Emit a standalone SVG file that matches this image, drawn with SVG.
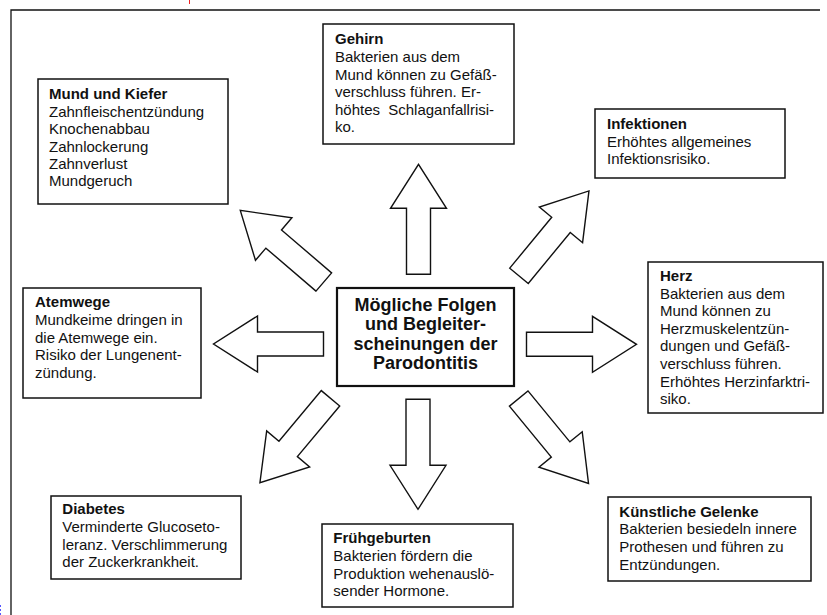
<svg xmlns="http://www.w3.org/2000/svg" width="827" height="615" viewBox="0 0 827 615">
<style>
  .box{fill:#fff;stroke:#111;stroke-width:1.5}
  .main{fill:#fff;stroke:#111;stroke-width:2.2}
  .arr{fill:#fff;stroke:#111;stroke-width:1.4;stroke-linejoin:miter}
  text{font-family:"Liberation Sans",Arial,sans-serif;font-size:15px;fill:#111}
  .h{font-weight:bold}
  .c{font-weight:bold;font-size:18px;text-anchor:middle}
</style>
<defs>
  <polygon id="arrow" points="0,-12 66,-12 66,-28 110,0 66,28 66,12 0,12"/>
</defs>
<rect width="827" height="615" fill="#fff"/>
<path d="M11,615 V10 H820" fill="none" stroke="#111" stroke-width="1.3"/>
<line x1="189.5" y1="0" x2="189.5" y2="4" stroke="#e22" stroke-width="1"/>
<line x1="0.5" y1="605" x2="0.5" y2="615" stroke="#55f" stroke-width="1" stroke-dasharray="2,2"/>

<g id="connectors">
  <use href="#arrow" class="arr" transform="translate(418.5,274.3) rotate(-90)"/>
  <use href="#arrow" class="arr" transform="translate(418,399.3) rotate(90)"/>
  <use href="#arrow" class="arr" transform="translate(323.5,344) rotate(180)"/>
  <use href="#arrow" class="arr" transform="translate(526.5,344.3)"/>
  <use href="#arrow" class="arr" transform="translate(323.8,282) rotate(-139.4)"/>
  <use href="#arrow" class="arr" transform="translate(519,275.8) rotate(-50.5)"/>
  <use href="#arrow" class="arr" transform="translate(330.5,398.3) rotate(129.9)"/>
  <use href="#arrow" class="arr" transform="translate(518.7,398.5) rotate(50.6)"/>
</g>

<g id="center">
  <rect class="main" x="337" y="288" width="177" height="98"/>
  <text class="c" x="425.5" y="311">Mögliche Folgen</text>
  <text class="c" x="425.5" y="330.3">und Begleiter-</text>
  <text class="c" x="425.5" y="349.5">scheinungen der</text>
  <text class="c" x="425.5" y="368.7">Parodontitis</text>
</g>

<g id="mund">
  <rect class="box" x="38" y="79" width="190" height="125"/>
  <text x="49" y="99.3"><tspan class="h">Mund und Kiefer</tspan><tspan x="49" dy="17.4">Zahnfleischentzündung</tspan><tspan x="49" dy="17.4">Knochenabbau</tspan><tspan x="49" dy="17.4">Zahnlockerung</tspan><tspan x="49" dy="17.4">Zahnverlust</tspan><tspan x="49" dy="17.4">Mundgeruch</tspan></text>
</g>

<g id="gehirn">
  <rect class="box" x="323" y="24" width="191" height="120"/>
  <text x="335" y="44.3"><tspan class="h">Gehirn</tspan><tspan x="335" dy="17.6">Bakterien aus dem</tspan><tspan x="335" dy="17.6">Mund können zu Gefäß-</tspan><tspan x="335" dy="17.6">verschluss führen. Er-</tspan><tspan x="335" dy="17.6" word-spacing="4">höhtes Schlaganfallrisi-</tspan><tspan x="335" dy="17.6">ko.</tspan></text>
</g>

<g id="infektionen">
  <rect class="box" x="595" y="109" width="190" height="69"/>
  <text x="607" y="129"><tspan class="h">Infektionen</tspan><tspan x="607" dy="17.6">Erhöhtes allgemeines</tspan><tspan x="607" dy="17.6">Infektionsrisiko.</tspan></text>
</g>

<g id="atemwege">
  <rect class="box" x="23" y="288" width="178" height="110"/>
  <text x="35" y="307.3"><tspan class="h">Atemwege</tspan><tspan x="35" dy="17.6">Mundkeime dringen in</tspan><tspan x="35" dy="17.6">die Atemwege ein.</tspan><tspan x="35" dy="17.6">Risiko der Lungenent-</tspan><tspan x="35" dy="17.6">zündung.</tspan></text>
</g>

<g id="herz">
  <rect class="box" x="648" y="262" width="175" height="151"/>
  <text x="660" y="281"><tspan class="h">Herz</tspan><tspan x="660" dy="17.6">Bakterien aus dem</tspan><tspan x="660" dy="17.6">Mund können zu</tspan><tspan x="660" dy="17.6">Herzmuskelentzün-</tspan><tspan x="660" dy="17.6">dungen und Gefäß-</tspan><tspan x="660" dy="17.6">verschluss führen.</tspan><tspan x="660" dy="17.6">Erhöhtes Herzinfarktri-</tspan><tspan x="660" dy="17.6">siko.</tspan></text>
</g>

<g id="diabetes">
  <rect class="box" x="51" y="496" width="190" height="83"/>
  <text x="62.3" y="514.3"><tspan class="h">Diabetes</tspan><tspan x="62.3" dy="17.7">Verminderte Glucoseto-</tspan><tspan x="62.3" dy="17.7">leranz. Verschlimmerung</tspan><tspan x="62.3" dy="17.7">der Zuckerkrankheit.</tspan></text>
</g>

<g id="fruehgeburten">
  <rect class="box" x="322" y="524" width="191" height="83"/>
  <text x="333.3" y="543.3"><tspan class="h">Frühgeburten</tspan><tspan x="333.3" dy="17.6">Bakterien fördern die</tspan><tspan x="333.3" dy="17.6">Produktion wehenauslö-</tspan><tspan x="333.3" dy="17.6">sender Hormone.</tspan></text>
</g>

<g id="gelenke">
  <rect class="box" x="608" y="497" width="203" height="84"/>
  <text x="619.3" y="516.7"><tspan class="h">Künstliche Gelenke</tspan><tspan x="619.3" dy="17.6">Bakterien besiedeln innere</tspan><tspan x="619.3" dy="17.6">Prothesen und führen zu</tspan><tspan x="619.3" dy="17.6">Entzündungen.</tspan></text>
</g>
</svg>
